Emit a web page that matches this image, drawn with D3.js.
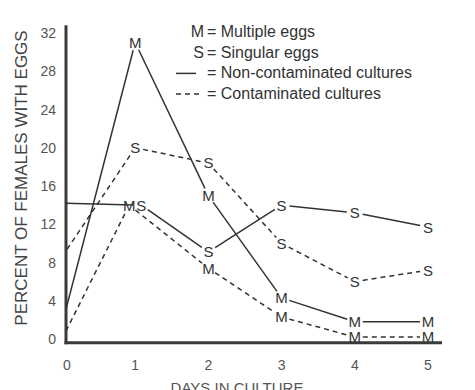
<!DOCTYPE html>
<html>
<head>
<meta charset="utf-8">
<script src="https://cdn.jsdelivr.net/npm/d3@7"></script>
<style>
  body { margin: 0; background: #fff; }
  svg { display: block; font-family: "Liberation Sans", Arial, sans-serif; }
</style>
</head>
<body>
<div id="chart"></div>
<script>
// days on the x axis
const days = [0, 1, 2, 3, 4, 5];
const yTicks = [0, 4, 8, 12, 16, 20, 24, 28, 32];

// percent of females with eggs
const nonContMultiple = [1.5, 31, 15, 4.3, 1.8, 1.8];
const nonContSingular = [14.2, 14, 9.1, 14, 13.2, 11.7];
const contMultiple = [0, 14, 7.4, 2.3, 0.2, 0.2];
const contSingular = [8.6, 20, 18.4, 10, 6, 7.2];

const series = [
    { letter: "M", dashed: false, values: nonContMultiple },
    { letter: "S", dashed: false, values: nonContSingular },
    { letter: "M", dashed: true, values: contMultiple },
    { letter: "S", dashed: true, values: contSingular }
];

const legendRows = [
    { key: "M", label: "Multiple eggs" },
    { key: "S", label: "Singular eggs" },
    { key: "solid", label: "Non-contaminated cultures" },
    { key: "dash", label: "Contaminated cultures" }
];

const width = 475, height = 390;
const ink = "#333";

const svg = d3.select("#chart").append("svg")
    .attr("width", width)
    .attr("height", height);

const x = d3.scaleLinear().domain([0, 5]).range([62, 428]);
const y = d3.scaleLinear().domain([0, 32]).range([339, 33]);

const axisX = 66;          // where the vertical axis is drawn
const axisY = y(-0.4);

svg.append("clipPath").attr("id", "plot")
    .append("rect")
    .attr("x", axisX).attr("y", 0)
    .attr("width", width - axisX).attr("height", axisY);

// axes (thick hand drawn lines, no tick marks)
svg.append("line")
    .attr("x1", axisX).attr("x2", axisX)
    .attr("y1", y(32.8)).attr("y2", axisY + 1.5)
    .attr("stroke", "#3a3a3a").attr("stroke-width", 3);
svg.append("line")
    .attr("x1", axisX - 1.5).attr("x2", 442)
    .attr("y1", axisY).attr("y2", axisY)
    .attr("stroke", "#3a3a3a").attr("stroke-width", 3);

svg.selectAll(".ytick").data(yTicks).enter().append("text")
    .attr("x", 56)
    .attr("y", d => y(d))
    .attr("dy", "0.36em")
    .attr("text-anchor", "end")
    .attr("font-size", 14)
    .attr("fill", "#555")
    .text(d => d);

svg.selectAll(".xtick").data(days).enter().append("text")
    .attr("x", d => d === 0 ? axisX + 1 : x(d))
    .attr("y", 370)
    .attr("text-anchor", "middle")
    .attr("font-size", 14)
    .attr("fill", "#555")
    .text(d => d);

svg.append("text")
    .attr("transform", "translate(27,178) rotate(-90)")
    .attr("text-anchor", "middle")
    .attr("font-size", 17)
    .attr("fill", "#444")
    .text("PERCENT OF FEMALES WITH EGGS");

// the scan cuts this title in half at the bottom edge
svg.append("text")
    .attr("x", 237).attr("y", 393)
    .attr("text-anchor", "middle")
    .attr("font-size", 15)
    .attr("fill", "#555")
    .text("DAYS IN CULTURE");

// markers: letters at each point from day 1 on
let markers = [];
series.forEach(s => {
    s.values.forEach((v, i) => {
        if (days[i] === 0) return;
        markers.push({ letter: s.letter, px: x(days[i]), py: y(v), series: s, i: i });
    });
});
// letters sitting on top of each other get pushed apart
for (let a = 0; a < markers.length; a++) {
    for (let b = a + 1; b < markers.length; b++) {
        const m1 = markers[a], m2 = markers[b];
        if (Math.abs(m1.px - m2.px) < 12 && Math.abs(m1.py - m2.py) < 10) {
            const left = m1.letter === "M" ? m1 : m2;
            const right = left === m1 ? m2 : m1;
            left.px -= 6;
            right.px += 6;
        }
    }
}
function markerPos(s, i) {
    const m = markers.find(d => d.series === s && d.i === i);
    return m ? [m.px, m.py] : [x(days[i]), y(s.values[i])];
}

// lines stop a little short of the letters
const gap = 8;
const lineG = svg.append("g").attr("clip-path", "url(#plot)");
series.forEach(s => {
    for (let i = 0; i < s.values.length - 1; i++) {
        let [x1, y1] = markerPos(s, i);
        let [x2, y2] = markerPos(s, i + 1);
        const len = Math.hypot(x2 - x1, y2 - y1);
        const ux = (x2 - x1) / len, uy = (y2 - y1) / len;
        if (days[i] !== 0) { x1 += ux * gap; y1 += uy * gap; }
        x2 -= ux * gap; y2 -= uy * gap;
        lineG.append("line")
            .attr("x1", x1).attr("y1", y1)
            .attr("x2", x2).attr("y2", y2)
            .attr("stroke", ink)
            .attr("stroke-width", 1.5)
            .attr("stroke-dasharray", s.dashed ? "5,4" : null);
    }
});

svg.selectAll(".marker").data(markers).enter().append("text")
    .attr("x", d => d.px)
    .attr("y", d => d.py)
    .attr("dy", "0.36em")
    .attr("text-anchor", "middle")
    .attr("font-size", 15)
    .attr("fill", ink)
    .text(d => d.letter);

// legend
const legend = svg.append("g");
legendRows.forEach((r, i) => {
    const by = 37 + i * 20.7;
    if (r.key === "solid" || r.key === "dash") {
        legend.append("line")
            .attr("x1", 176).attr("x2", r.key === "solid" ? 196 : 203)
            .attr("y1", by - 5).attr("y2", by - 5)
            .attr("stroke", ink).attr("stroke-width", 1.5)
            .attr("stroke-dasharray", r.key === "dash" ? "5,4" : null);
    } else {
        legend.append("text")
            .attr("x", 204).attr("y", by)
            .attr("text-anchor", "end")
            .attr("font-size", 16)
            .attr("fill", ink)
            .text(r.key);
    }
    legend.append("text")
        .attr("x", 207).attr("y", by)
        .attr("font-size", 16)
        .attr("fill", ink)
        .text("= " + r.label);
});
</script>
</body>
</html>
